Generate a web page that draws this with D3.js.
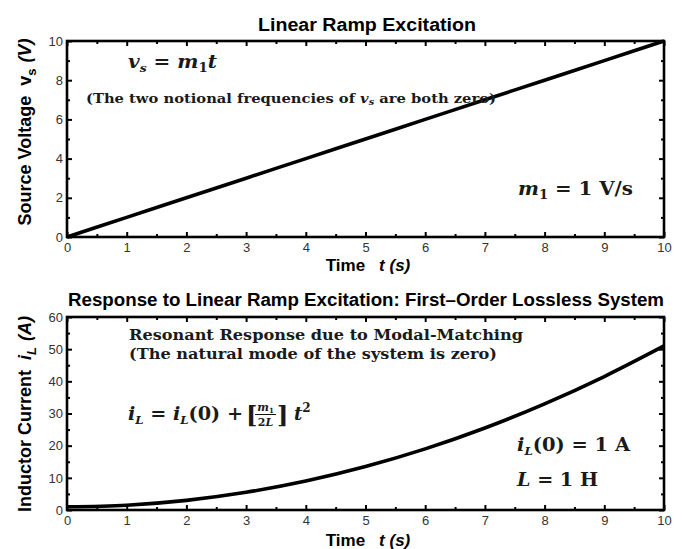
<!DOCTYPE html>
<html>
<head>
<meta charset="utf-8">
<script src="https://cdn.jsdelivr.net/npm/d3@7"></script>
<style>
  body { margin: 0; background: #fff; }
  .tick text { font-family: "Liberation Sans Narrow", "Liberation Sans", Arial, sans-serif; font-size: 13px; fill: #333; }
  .math { font-family: "DejaVu Serif", "Liberation Serif", serif; font-weight: bold; fill: #1a1a1a; }
  .lbl { font-family: "Liberation Sans", Arial, sans-serif; font-weight: bold; fill: #000; }
</style>
</head>
<body>
<svg id="chart" width="685" height="549"></svg>
<script>
// time samples (s)
const timeValues = [0, 1, 2, 3, 4, 5, 6, 7, 8, 9, 10];
// source voltage vs (V)
const sourceVoltage = [0, 1, 2, 3, 4, 5, 6, 7, 8, 9, 10];
// inductor current iL (A)
const inductorCurrent = [1, 1.5, 3, 5.5, 9, 13.5, 19, 25.5, 33, 41.5, 51];

const xTicks = [0, 1, 2, 3, 4, 5, 6, 7, 8, 9, 10];
const vTicks = [0, 2, 4, 6, 8, 10];
const iTicks = [0, 10, 20, 30, 40, 50, 60];

const svg = d3.select("#chart");
const left = 67, right = 664;

function panel(top, bottom, yMax, yTicks, yMinorStep, values) {
  const x = d3.scaleLinear().domain([0, 10]).range([left, right]);
  const y = d3.scaleLinear().domain([0, yMax]).range([bottom, top]);
  const g = svg.append("g");

  const minorX = d3.range(0, 10.01, 0.5).filter(d => xTicks.indexOf(d) < 0);
  const minorY = d3.range(0, yMax + 0.01, yMinorStep).filter(d => yTicks.indexOf(d) < 0);

  // major ticks, inward
  g.append("g").attr("transform", "translate(0," + bottom + ")")
    .call(d3.axisBottom(x).tickValues(xTicks).tickSize(-5).tickPadding(6).tickFormat(d3.format("d")));
  g.append("g").attr("transform", "translate(0," + top + ")")
    .call(d3.axisTop(x).tickValues(xTicks).tickSize(-5).tickFormat(""));
  g.append("g").attr("transform", "translate(" + left + ",0)")
    .call(d3.axisLeft(y).tickValues(yTicks).tickSize(-5).tickPadding(4).tickFormat(d3.format("d")));
  g.append("g").attr("transform", "translate(" + right + ",0)")
    .call(d3.axisRight(y).tickValues(yTicks).tickSize(-5).tickFormat(""));
  // minor ticks
  g.append("g").attr("transform", "translate(0," + bottom + ")")
    .call(d3.axisBottom(x).tickValues(minorX).tickSize(-3).tickFormat(""));
  g.append("g").attr("transform", "translate(0," + top + ")")
    .call(d3.axisTop(x).tickValues(minorX).tickSize(-3).tickFormat(""));
  g.append("g").attr("transform", "translate(" + left + ",0)")
    .call(d3.axisLeft(y).tickValues(minorY).tickSize(-3).tickFormat(""));
  g.append("g").attr("transform", "translate(" + right + ",0)")
    .call(d3.axisRight(y).tickValues(minorY).tickSize(-3).tickFormat(""));

  g.selectAll(".domain").remove();
  g.selectAll(".tick line").attr("stroke", "#000").attr("stroke-width", 2);

  g.append("rect")
    .attr("x", left).attr("y", top)
    .attr("width", right - left).attr("height", bottom - top)
    .attr("fill", "none").attr("stroke", "#000").attr("stroke-width", 2.6);

  g.append("path")
    .datum(timeValues.map((t, i) => [t, values[i]]))
    .attr("fill", "none").attr("stroke", "#000").attr("stroke-width", 3.6)
    .attr("d", d3.line().x(d => x(d[0])).y(d => y(d[1])).curve(d3.curveMonotoneX));

  return { x, y };
}

panel(41, 237, 10, vTicks, 1, sourceVoltage);
panel(317, 510, 60, iTicks, 5, inductorCurrent);

// titles
svg.append("text").attr("class", "lbl").attr("x", 367).attr("y", 31)
  .attr("text-anchor", "middle").attr("font-size", 18)
  .attr("textLength", 218).attr("lengthAdjust", "spacingAndGlyphs")
  .text("Linear Ramp Excitation");
svg.append("text").attr("class", "lbl").attr("x", 366).attr("y", 306)
  .attr("text-anchor", "middle").attr("font-size", 18)
  .attr("textLength", 596).attr("lengthAdjust", "spacingAndGlyphs")
  .text("Response to Linear Ramp Excitation:  First\u2013Order Lossless System");

// x labels
function timeLabel(yPos) {
  const t = svg.append("text").attr("class", "lbl").attr("x", 368).attr("y", yPos)
    .attr("text-anchor", "middle").attr("font-size", 17);
  t.append("tspan").text("Time");
  t.append("tspan").attr("dx", 14).attr("font-style", "italic").text("t (s)");
}
timeLabel(271);
timeLabel(546);

// y labels
const yl1 = svg.append("text").attr("class", "lbl")
  .attr("transform", "translate(31,132) rotate(-90)")
  .attr("text-anchor", "middle").attr("font-size", 18);
yl1.append("tspan").text("Source Voltage");
yl1.append("tspan").attr("dx", 10).text("v");
yl1.append("tspan").attr("font-size", 13).attr("dy", 5).text("s");
yl1.append("tspan").attr("dx", 6).attr("dy", -5).attr("font-style", "italic").text("(V)");

const yl2 = svg.append("text").attr("class", "lbl")
  .attr("transform", "translate(31,414) rotate(-90)")
  .attr("text-anchor", "middle").attr("font-size", 18);
yl2.append("tspan").text("Inductor Current");
yl2.append("tspan").attr("dx", 10).attr("font-style", "italic").text("i");
yl2.append("tspan").attr("font-size", 13).attr("font-style", "italic").attr("dy", 5).text("L");
yl2.append("tspan").attr("dx", 6).attr("dy", -5).attr("font-style", "italic").text("(A)");

const fit = "spacingAndGlyphs";

// annotations, top panel
const a1 = svg.append("text").attr("class", "math").attr("x", 128).attr("y", 68)
  .attr("font-size", 18).attr("textLength", 89).attr("lengthAdjust", fit);
a1.append("tspan").attr("font-style", "italic").text("v");
a1.append("tspan").attr("font-style", "italic").attr("font-size", 11).attr("dy", 4).text("s");
a1.append("tspan").attr("dy", -4).text(" = ");
a1.append("tspan").attr("font-style", "italic").text("m");
a1.append("tspan").attr("font-size", 12).attr("dy", 4).text("1");
a1.append("tspan").attr("dy", -4).attr("font-style", "italic").text("t");

const a2 = svg.append("text").attr("class", "math").attr("x", 86).attr("y", 103)
  .attr("font-size", 13.5).attr("textLength", 410).attr("lengthAdjust", fit);
a2.append("tspan").text("(The two notional frequencies of ");
a2.append("tspan").attr("font-style", "italic").text("v");
a2.append("tspan").attr("font-style", "italic").attr("font-size", 9).attr("dy", 2).text("s");
a2.append("tspan").attr("dy", -2).text(" are both zero)");

const a3 = svg.append("text").attr("class", "math").attr("x", 518).attr("y", 195)
  .attr("font-size", 18).attr("textLength", 115).attr("lengthAdjust", fit);
a3.append("tspan").attr("font-style", "italic").text("m");
a3.append("tspan").attr("font-size", 12).attr("dy", 4).text("1");
a3.append("tspan").attr("dy", -4).text(" = 1 V/s");

// annotations, bottom panel
svg.append("text").attr("class", "math").attr("x", 129).attr("y", 340)
  .attr("font-size", 15).attr("textLength", 394).attr("lengthAdjust", fit)
  .text("Resonant Response due to Modal-Matching");
svg.append("text").attr("class", "math").attr("x", 129).attr("y", 359)
  .attr("font-size", 15).attr("textLength", 368).attr("lengthAdjust", fit)
  .text("(The natural mode of the system is zero)");

// iL = iL(0) + [m1/2L] t^2
const eqX = 128, eqY = 420;
const a4 = svg.append("text").attr("class", "math").attr("x", eqX).attr("y", eqY)
  .attr("font-size", 18).attr("textLength", 115).attr("lengthAdjust", fit);
a4.append("tspan").attr("font-style", "italic").text("i");
a4.append("tspan").attr("font-style", "italic").attr("font-size", 11).attr("dy", 4).text("L");
a4.append("tspan").attr("dy", -4).text(" = ");
a4.append("tspan").attr("font-style", "italic").text("i");
a4.append("tspan").attr("font-style", "italic").attr("font-size", 11).attr("dy", 4).text("L");
a4.append("tspan").attr("dy", -4).text("(0) +");

svg.append("text").attr("class", "math").attr("x", eqX + 118).attr("y", eqY + 4)
  .attr("font-size", 24).attr("font-weight", "normal").text("[");
const fx = eqX + 127, fracW = 21;
svg.append("text").attr("class", "math").attr("x", fx + fracW / 2).attr("y", eqY - 9)
  .attr("font-size", 11).attr("text-anchor", "middle")
  .html('<tspan font-style="italic">m</tspan><tspan font-size="7" dy="2">1</tspan>');
svg.append("line").attr("x1", fx).attr("x2", fx + fracW).attr("y1", eqY - 5.5).attr("y2", eqY - 5.5)
  .attr("stroke", "#111").attr("stroke-width", 1);
svg.append("text").attr("class", "math").attr("x", fx + fracW / 2).attr("y", eqY + 6)
  .attr("font-size", 11).attr("text-anchor", "middle")
  .html('2<tspan font-style="italic">L</tspan>');
svg.append("text").attr("class", "math").attr("x", fx + fracW + 1).attr("y", eqY + 4)
  .attr("font-size", 24).attr("font-weight", "normal").text("]");
const a5 = svg.append("text").attr("class", "math").attr("x", eqX + 166).attr("y", eqY)
  .attr("font-size", 18);
a5.append("tspan").attr("font-style", "italic").text("t");
a5.append("tspan").attr("font-size", 12).attr("dy", -8).text("2");

const a6 = svg.append("text").attr("class", "math").attr("x", 517).attr("y", 451)
  .attr("font-size", 18).attr("textLength", 113).attr("lengthAdjust", fit);
a6.append("tspan").attr("font-style", "italic").text("i");
a6.append("tspan").attr("font-style", "italic").attr("font-size", 11).attr("dy", 4).text("L");
a6.append("tspan").attr("dy", -4).text("(0) = 1 A");

const a7 = svg.append("text").attr("class", "math").attr("x", 517).attr("y", 486)
  .attr("font-size", 18).attr("textLength", 81).attr("lengthAdjust", fit);
a7.append("tspan").attr("font-style", "italic").text("L");
a7.append("tspan").text(" = 1 H");
</script>
</body>
</html>
